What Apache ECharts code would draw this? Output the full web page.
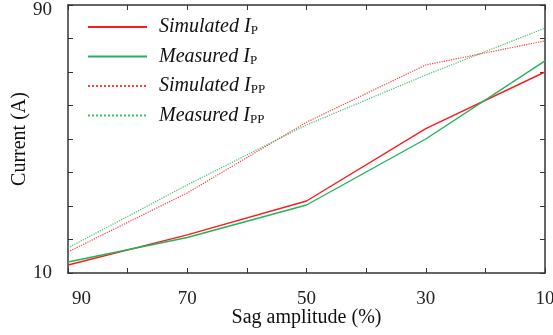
<!DOCTYPE html>
<html><head><meta charset="utf-8">
<script src="https://cdn.jsdelivr.net/npm/echarts@6/dist/echarts.min.js"></script>
<style>html,body{margin:0;padding:0;background:#fff}#c{width:553px;height:335px}</style>
</head><body><div id="c"></div>
<script>
const sagAmplitude = [90, 70, 50, 30, 10];
const simulatedIP  = [12.4, 21.4, 31.5, 53.1, 70.0];
const measuredIP   = [13.3, 20.6, 30.3, 50.0, 73.3];
const simulatedIPP = [16.3, 33.9, 55.0, 72.1, 79.3];
const measuredIPP  = [17.5, 36.3, 54.2, 69.1, 83.1];
const xTickLabels = [90, 70, 50, 30, 10];
const yTickLabels = [10, 90];

const RED = '#ff1a1a', GREEN = '#1fb45a';
const FONT = 'Liberation Serif';
const pairs = ys => sagAmplitude.map((x, i) => [x, ys[i]]);
const mk = (name, ys, color, type) => ({
  name, type: 'line', data: pairs(ys), symbol: 'none',
  lineStyle: { color, width: type === 'solid' ? 1.4 : 1.2, type, opacity: type === 'solid' ? 1 : 0.85 },
  itemStyle: { color }
});
const legendMap = {
  'Simulated IP': '{i|Simulated I}{s|P}',
  'Measured IP': '{i|Measured I}{s|P}',
  'Simulated IPP': '{i|Simulated I}{s|PP}',
  'Measured IPP': '{i|Measured I}{s|PP}'
};
const axisCommon = {
  axisLine: { lineStyle: { color: '#333', width: 1.5 } },
  axisTick: { inside: true, length: 5, lineStyle: { color: '#333', width: 1 } },
  splitLine: { show: false }
};
const chart = echarts.init(document.getElementById('c'));
chart.setOption({
  animation: false,
  backgroundColor: '#fff',
  grid: { left: 68, right: 8, top: 5, bottom: 62, outerBoundsMode: 'none', containLabel: false },
  legend: {
    orient: 'vertical', left: 82, top: 12, itemWidth: 59, itemHeight: 4, itemGap: 9,
    itemStyle: { opacity: 0 },
    textStyle: {
      fontFamily: FONT, color: '#111',
      rich: {
        i: { fontFamily: FONT, fontStyle: 'italic', fontSize: 20, color: '#111', padding: [0, 0, 0, 7] },
        s: { fontFamily: FONT, fontSize: 13, color: '#111', padding: [8, 0, 0, 0] }
      }
    },
    formatter: n => legendMap[n],
    data: ['Simulated IP', 'Measured IP', 'Simulated IPP', 'Measured IPP']
  },
  xAxis: [
    Object.assign({
      type: 'value', min: 10, max: 90, interval: 10, inverse: true,
      name: 'Sag amplitude (%)', nameLocation: 'middle', nameGap: 35, nameMoveOverlap: false,
      nameTextStyle: { fontFamily: FONT, fontSize: 20, color: '#111' },
      axisLabel: {
        margin: 17, fontFamily: FONT, fontSize: 19, color: '#222',
        alignMaxLabel: 'left', alignMinLabel: 'center',
        formatter: v => xTickLabels.includes(v) ? (v === 90 ? '{p|90}' : String(v)) : '',
        rich: { p: { fontFamily: FONT, fontSize: 19, color: '#222', padding: [0, 0, 0, 4] } }
      }
    }, axisCommon),
    Object.assign({
      type: 'value', min: 10, max: 90, interval: 10, inverse: true, position: 'top',
      axisLabel: { show: false }
    }, axisCommon)
  ],
  yAxis: [
    Object.assign({
      type: 'value', min: 10, max: 90, interval: 10,
      name: 'Current (A)', nameLocation: 'middle', nameGap: 38, nameMoveOverlap: false,
      nameTextStyle: { fontFamily: FONT, fontSize: 20, color: '#111' },
      axisLabel: {
        margin: 16, fontFamily: FONT, fontSize: 19, color: '#222',
        formatter: v => yTickLabels.includes(v) ? (v === 90 ? '{t|90}' : String(v)) : '',
        rich: { t: { fontFamily: FONT, fontSize: 19, color: '#222', padding: [10, 0, 0, 0] } }
      }
    }, axisCommon),
    Object.assign({
      type: 'value', min: 10, max: 90, interval: 10, position: 'right',
      axisLabel: { show: false }
    }, axisCommon)
  ],
  series: [
    mk('Simulated IP', simulatedIP, RED, 'solid'),
    mk('Measured IP', measuredIP, GREEN, 'solid'),
    mk('Simulated IPP', simulatedIPP, RED, 'dotted'),
    mk('Measured IPP', measuredIPP, GREEN, 'dotted')
  ]
});
</script></body></html>
